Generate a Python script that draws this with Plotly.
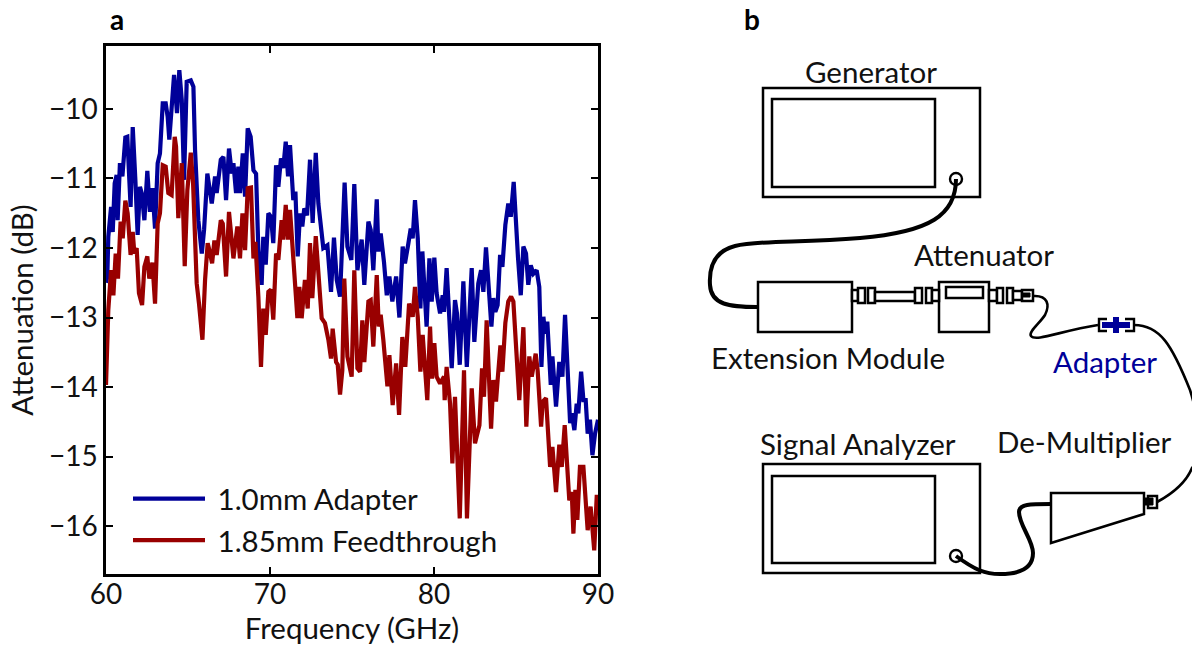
import plotly.graph_objects as go

W, H = 1192, 647
FONT = "Lato"
BLUE = "#000099"
RED = "#990000"

adapter_freq = [60.0,60.08,60.14,60.24,60.31,60.41,60.53,60.65,60.71,60.85,61.0,61.18,61.3,61.5,61.63,61.79,61.93,62.07,62.18,62.34,62.52,62.68,62.83,62.99,63.15,63.29,63.46,63.64,63.76,63.86,64.0,64.15,64.33,64.47,64.62,64.76,64.92,65.17,65.33,65.43,65.63,65.84,65.98,66.18,66.45,66.65,66.75,67.0,67.16,67.32,67.5,67.67,67.77,67.93,68.07,68.17,68.34,68.48,68.64,68.82,68.99,69.15,69.29,69.49,69.59,69.74,69.9,
70.06,70.2,70.37,70.51,70.67,70.81,70.96,71.1,71.22,71.42,71.55,71.69,71.83,71.97,72.09,72.26,72.44,72.6,72.79,72.95,73.11,73.25,73.5,73.72,73.9,74.07,74.27,74.37,74.55,74.72,74.96,75.14,75.33,75.59,75.75,76.0,76.14,76.3,76.51,76.61,76.75,76.95,77.12,77.28,77.46,77.69,77.89,78.09,78.23,78.44,78.58,78.7,78.84,79.01,79.17,
79.29,79.55,79.72,79.86,80.02,80.16,80.37,80.53,80.61,80.77,80.94,81.08,81.28,81.4,81.57,81.79,82.0,82.3,82.46,82.7,82.87,83.01,83.17,83.35,83.5,83.62,83.74,83.88,84.03,84.17,84.35,84.53,84.68,84.86,85.0,85.12,85.29,85.45,85.61,85.75,85.9,86.06,86.26,86.42,86.55,86.67,86.77,86.91,87.12,87.22,87.44,87.64,87.83,87.99,88.15,88.3,88.4,88.56,88.7,88.8,88.97,89.11,89.25,89.37,89.51,89.66,89.82,90.0]
adapter_db = [-12.5,-12.41,-11.84,-11.6,-11.41,-11.77,-11.07,-10.95,-11.6,-10.78,-10.97,-10.41,-10.4,-11.41,-10.26,-11.02,-11.81,-11.12,-11.21,-11.6,-10.89,-11.48,-11.14,-11.72,-10.78,-10.64,-9.92,-9.92,-10.11,-10.44,-10.06,-9.51,-10.06,-9.44,-9.87,-11.02,-9.61,-9.59,-9.68,-10.59,-11.6,-12.08,-11.74,-10.93,-11.36,-10.97,-11.21,-10.73,-10.69,-11.31,-10.57,-10.93,-10.78,-11.21,-10.83,-11.21,-10.64,-11.26,-10.28,-10.4,-10.88,-10.93,-12.03,-12.53,-11.84,-12.24,-11.5,
-11.55,-11.93,-10.81,-11.12,-10.71,-10.85,-10.47,-10.97,-10.52,-11.31,-11.19,-12.12,-11.5,-11.69,-11.43,-11.53,-10.73,-11.64,-10.63,-11.36,-11.79,-12.0,-11.96,-12.63,-11.85,-12.46,-12.7,-12.22,-11.06,-11.98,-12.17,-11.08,-12.32,-11.88,-12.53,-11.62,-11.74,-12.32,-11.3,-12.05,-11.79,-12.2,-12.68,-12.41,-12.77,-12.41,-13.0,-11.98,-12.22,-11.93,-11.72,-11.86,-11.31,-11.86,-12.87,
-12.05,-13.13,-12.15,-12.77,-12.14,-12.65,-12.94,-12.68,-12.92,-12.29,-13.04,-13.73,-12.75,-12.94,-13.68,-12.48,-13.71,-12.29,-13.35,-12.51,-12.32,-12.63,-11.99,-12.53,-13.13,-12.72,-12.92,-12.82,-12.1,-12.27,-11.67,-11.36,-11.55,-11.05,-11.79,-12.13,-12.68,-11.98,-12.08,-12.53,-12.25,-12.37,-12.32,-12.56,-13.71,-12.99,-13.23,-13.06,-13.97,-13.56,-14.28,-13.64,-13.85,-12.96,-13.76,-14.52,-14.38,-14.62,-14.24,-14.38,-13.78,-14.19,-14.19,-14.67,-14.47,-14.98,-14.67,-14.47]

feedthrough_freq = [60.0,60.14,60.31,60.45,60.59,60.73,60.89,61.02,61.18,61.32,61.5,61.63,61.73,61.87,62.01,62.2,62.34,62.52,62.64,62.83,62.99,63.15,63.29,63.46,63.64,63.8,64.0,64.19,64.27,64.41,64.62,64.8,64.96,65.17,65.31,65.43,65.53,65.67,65.88,66.04,66.2,66.3,66.47,66.61,66.75,67.0,67.12,67.32,67.5,67.77,68.01,68.17,68.32,68.48,68.64,68.84,68.99,69.11,69.29,69.45,69.59,69.74,69.9,
70.06,70.2,70.37,70.51,70.71,70.81,70.96,71.1,71.22,71.42,71.67,71.79,71.93,72.13,72.3,72.44,72.58,72.79,72.95,73.15,73.35,73.56,73.72,73.82,74.03,74.13,74.27,74.41,74.53,74.72,74.98,75.14,75.33,75.49,75.63,75.75,76.0,76.14,76.3,76.51,76.63,76.75,76.91,77.16,77.28,77.48,77.69,77.87,78.07,78.25,78.48,78.7,78.84,79.01,79.17,79.31,
79.59,79.76,79.88,80.02,80.16,80.37,80.61,80.65,80.77,80.98,81.12,81.28,81.57,81.83,82.01,82.3,82.5,82.77,82.93,83.05,83.21,83.48,83.62,83.78,83.88,84.05,84.17,84.35,84.53,84.7,84.84,85.0,85.2,85.45,85.63,85.81,85.96,86.2,86.32,86.53,86.63,86.83,87.08,87.22,87.44,87.64,87.79,87.97,88.09,88.25,88.4,88.5,88.62,88.74,88.9,89.11,89.37,89.55,89.77,89.92,90.0]
feedthrough_db = [-13.97,-12.89,-12.32,-12.68,-12.08,-12.44,-11.62,-11.86,-11.32,-11.5,-12.1,-11.77,-12.08,-12.0,-12.65,-12.82,-12.27,-12.12,-12.44,-12.21,-12.8,-11.65,-11.5,-10.81,-10.83,-11.21,-11.24,-10.4,-10.54,-11.57,-10.78,-12.26,-11.17,-10.63,-11.07,-12.03,-12.51,-12.8,-13.32,-12.46,-11.93,-12.03,-12.22,-11.89,-12.1,-11.6,-11.65,-12.41,-11.48,-12.15,-11.69,-12.15,-11.5,-12.03,-11.14,-11.13,-12.15,-11.91,-12.7,-13.71,-12.87,-13.25,-12.63,
-12.6,-13.03,-12.08,-12.17,-11.6,-11.88,-11.38,-11.88,-11.45,-12.22,-13.01,-12.56,-13.01,-12.46,-12.87,-11.93,-12.72,-11.83,-12.41,-13.01,-13.08,-13.32,-13.59,-13.16,-13.64,-13.68,-14.11,-13.76,-12.44,-13.56,-13.85,-12.32,-13.73,-13.78,-13.04,-13.64,-12.77,-12.75,-13.42,-12.39,-13.13,-12.96,-13.32,-13.99,-13.54,-14.26,-13.66,-14.4,-13.28,-13.71,-12.8,-12.99,-12.56,-12.99,-13.78,-13.25,
-14.19,-13.13,-13.88,-13.37,-13.85,-13.95,-13.85,-14.19,-13.71,-14.24,-15.1,-14.14,-15.89,-13.76,-15.89,-14.02,-14.81,-14.55,-13.73,-14.14,-13.04,-14.6,-13.9,-14.21,-13.9,-13.4,-13.78,-13.08,-12.77,-12.7,-12.77,-13.49,-14.19,-13.14,-14.57,-13.56,-13.85,-13.52,-13.76,-14.57,-14.21,-14.16,-15.15,-14.86,-15.51,-14.83,-15.15,-14.55,-15.15,-15.63,-15.51,-16.11,-15.48,-15.91,-15.15,-15.15,-16.06,-15.72,-16.35,-15.58,-15.58]

series_names = ["\u00a01.0mm Adapter", "\u00a01.85mm Feedthrough"]
x_ticks = [60, 70, 80, 90]
y_ticks = [-10, -11, -12, -13, -14, -15, -16]

diagram_labels = [
    ("a", 117, 19, "#000000", True),
    ("b", 752, 19, "#000000", True),
    ("Generator", 871, 72, "#111111", False),
    ("Attenuator", 984, 255, "#111111", False),
    ("Extension Module", 828, 357, "#111111", False),
    ("Adapter", 1105, 361, BLUE, False),
    ("Signal Analyzer", 858, 443, "#111111", False),
    ("De-Multiplier", 1084, 442, "#111111", False),
]


def px(x):
    return x / W


def py(y):
    return 1 - y / H


def path(cmds):
    """cmds: list of (letter, x, y, x, y ...) in page pixels, mapped to paper fractions."""
    out = []
    for c in cmds:
        vals = c[1:]
        pts = []
        for i in range(0, len(vals), 2):
            pts.append(f"{px(vals[i]):.5f},{py(vals[i + 1]):.5f}")
        out.append(c[0] + " ".join(pts))
    return " ".join(out)


def box(x0, y0, x1, y1, lw=2.5, fill="white", color="#000000"):
    return dict(type="rect", xref="paper", yref="paper", x0=px(x0), x1=px(x1), y0=py(y0), y1=py(y1),
                line=dict(color=color, width=lw), fillcolor=fill, layer="above")


def curve(cmds, lw):
    return dict(type="path", xref="paper", yref="paper", path=path(cmds),
                line=dict(color="#000000", width=lw), layer="above")


def ring(cx, cy, r):
    return dict(type="circle", xref="paper", yref="paper", x0=px(cx - r), x1=px(cx + r),
                y0=py(cy - r), y1=py(cy + r), line=dict(color="#000000", width=2.4),
                fillcolor="rgba(0,0,0,0)", layer="above")


shapes = [
    # instruments
    box(763, 88, 980, 197, fill="rgba(0,0,0,0)"), box(772, 99, 935, 187), ring(956, 179, 6),
    box(763, 464, 980, 573, fill="rgba(0,0,0,0)"), box(772, 476, 935, 563), ring(956, 556, 6),
    # thick cable generator -> extension module
    curve([("M", 956, 179), ("C", 956, 215, 930, 232, 860, 238), ("C", 800, 243, 760, 240, 735, 246),
           ("C", 712, 252, 709, 270, 710, 285), ("C", 711, 305, 730, 307, 757, 307)], 4),
    # thin cable attenuator -> adapter
    curve([("M", 1033, 296), ("C", 1048, 295, 1050, 305, 1045, 315), ("C", 1040, 323, 1028, 332, 1031, 336),
           ("C", 1036, 342, 1060, 331, 1098, 325)], 2.6),
    # thin cable adapter -> de-multiplier
    curve([("M", 1134, 325), ("C", 1160, 325, 1172, 345, 1190, 390), ("C", 1200, 420, 1200, 460, 1192, 468),
           ("C", 1185, 485, 1170, 495, 1157, 502)], 2.6),
    # thick cable de-multiplier -> signal analyzer
    curve([("M", 956, 556), ("C", 975, 570, 985, 574, 1000, 574), ("C", 1020, 574, 1033, 568, 1033, 553),
           ("C", 1033, 540, 1019, 525, 1019, 512), ("C", 1019, 504, 1030, 504, 1051, 504)], 4),
    box(758, 282, 852, 332), box(939, 282, 989, 332), box(946, 287, 983, 298),
    # connector chain
    box(852, 290, 858, 301), box(858, 288, 865, 303),
    box(868, 288, 875, 303), box(875, 292, 915, 301), box(915, 288, 922, 303),
    box(926, 288, 932, 303), box(932, 290, 939, 301),
    box(989, 290, 997, 301), box(997, 288, 1003, 303),
    box(1007, 288, 1013, 303), box(1013, 291, 1022, 300),
    box(1022, 290, 1033, 301), box(1022, 293, 1030, 297, lw=1, fill="#000000"),
    # adapter
    curve([("M", 1107, 319), ("L", 1099, 319), ("L", 1099, 331), ("L", 1107, 331)], 2.4),
    curve([("M", 1125, 319), ("L", 1134, 319), ("L", 1134, 331), ("L", 1125, 331)], 2.4),
    box(1102, 322, 1130, 328, lw=0, fill=BLUE, color=BLUE),
    box(1113, 317, 1119, 333, lw=0, fill=BLUE, color=BLUE),
    # de-multiplier
    dict(type="path", xref="paper", yref="paper",
         path=path([("M", 1051, 493), ("L", 1144, 493), ("L", 1144, 514), ("L", 1051, 543), ("Z",)]),
         line=dict(color="#000000", width=2.5), fillcolor="white", layer="above"),
    box(1148, 496, 1157, 508), box(1144, 498, 1153, 505, lw=1, fill="#000000"),
]

annotations = [
    dict(text=("<b>%s</b>" % t) if bold else t, x=px(x), y=py(y), xref="paper", yref="paper",
         xanchor="center", yanchor="middle", showarrow=False,
         font=dict(family=FONT, size=28 if bold else 29.5, color=c))
    for t, x, y, c, bold in diagram_labels
]

fig = go.Figure()
fig.add_trace(go.Scatter(x=adapter_freq, y=adapter_db, mode="lines", name=series_names[0],
                         line=dict(color=BLUE, width=4.2), legendgroup="a"))
fig.add_trace(go.Scatter(x=feedthrough_freq, y=feedthrough_db, mode="lines", name=series_names[1],
                         line=dict(color=RED, width=4.2), legendgroup="b"))

axis_common = dict(ticks="inside", ticklen=7, tickwidth=2, tickcolor="#000000", mirror="allticks",
                   showline=True, linecolor="#000000", linewidth=2.5, showgrid=False, zeroline=False,
                   tickfont=dict(family=FONT, size=28, color="#111111"))

fig.update_layout(
    width=W, height=H, margin=dict(l=0, r=0, t=0, b=0), autosize=False,
    paper_bgcolor="white", plot_bgcolor="rgba(0,0,0,0)",
    xaxis=dict(domain=[px(106), px(598)], range=[60, 90], tickvals=x_ticks, automargin=False,
               ticklabelstandoff=-6,
               title=dict(text="Frequency (GHz)", font=dict(family=FONT, size=29.5, color="#111111"), standoff=8),
               **axis_common),
    yaxis=dict(domain=[py(574), py(46)], range=[-16.69, -9.094], tickvals=y_ticks, automargin=False,
               title=dict(text="Attenuation (dB)", font=dict(family=FONT, size=29.5, color="#111111"), standoff=7),
               **axis_common),
    legend=dict(x=px(128), y=py(473), xanchor="left", yanchor="top", bgcolor="rgba(0,0,0,0)", borderwidth=0,
                itemwidth=72, tracegroupgap=0, font=dict(family=FONT, size=29.5, color="#111111")),
    shapes=shapes, annotations=annotations,
)

fig.write_html("out.html", config=dict(displayModeBar=False),
               post_script="document.body.style.margin='0';document.body.style.overflow='hidden';")
